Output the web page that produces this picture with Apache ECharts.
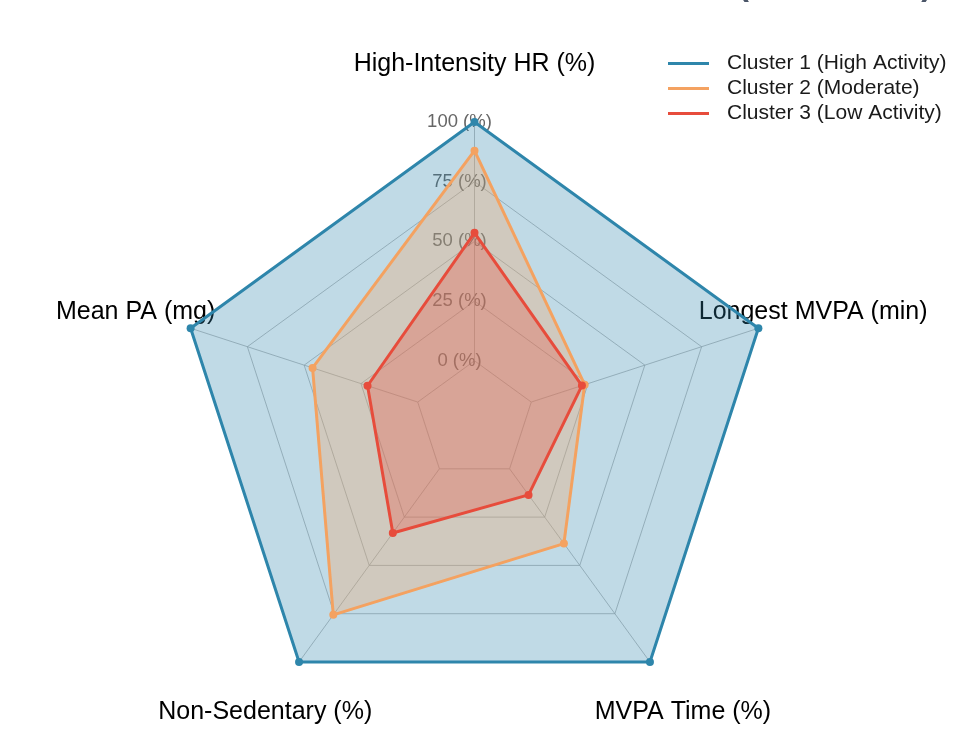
<!DOCTYPE html>
<html>
<head>
<meta charset="utf-8">
<script src="https://cdn.jsdelivr.net/npm/echarts@6/dist/echarts.min.js"></script>
<style>
html, body { margin: 0; padding: 0; background: #fff; }
#chart { width: 954px; height: 738px; }
</style>
</head>
<body>
<div id="chart"></div>
<script>
// axes, clockwise from the top
var categories = ['High-Intensity HR (%)', 'Longest MVPA (min)', 'MVPA Time (%)', 'Non-Sedentary (%)', 'Mean PA (mg)'];
var seriesNames = ['Cluster 1 (High Activity)', 'Cluster 2 (Moderate)', 'Cluster 3 (Low Activity)'];
var cluster1 = [100, 100, 100, 100, 100];
var cluster2 = [88, 23.5, 38.7, 75.6, 46.3];
var cluster3 = [53.6, 22.3, 13.5, 33.2, 22.1];
var tickValues = [0, 25, 50, 75, 100];
var colors = ['#2E86AB', '#F4A261', '#E74C3C'];

// echarts lays radar indicators out counter-clockwise, so flip the order
var order = [0, 4, 3, 2, 1];
function reorder(arr) {
	return order.map(function(i) { return arr[i]; });
}

// push each axis name to where the reference has it
var nameStyle = {
	'High-Intensity HR (%)': { key: 'a', padding: [0, 0, 195, 0] },
	'Longest MVPA (min)': { key: 'b', padding: [0, 0, 125, 83] },
	'MVPA Time (%)': { key: 'c', padding: [343, 0, 0, 33] },
	'Non-Sedentary (%)': { key: 'd', padding: [343, 15, 0, 0] },
	'Mean PA (mg)': { key: 'e', padding: [0, 118, 125, 0] }
};
var rich = {};
categories.forEach(function(c) {
	rich[nameStyle[c].key] = {
		fontSize: 25,
		fontFamily: 'Liberation Sans',
		color: '#000',
		padding: nameStyle[c].padding
	};
});

var chart = echarts.init(document.getElementById('chart'));
var gridColor = '#a3a3a3';

// spokes run from the 0 ring out to 100, one per axis (polar angle, clockwise from top)
var spokeSeries = categories.map(function(c, i) {
	var angle = 360 / categories.length * i;
	return {
		type: 'line',
		coordinateSystem: 'polar',
		silent: true,
		z: 1,
		symbol: 'none',
		lineStyle: { color: gridColor, width: 0.7 },
		data: [[0, angle], [100, angle]]
	};
});

chart.setOption({
	animation: false,
	color: colors,
	textStyle: { fontFamily: 'Liberation Sans' },
	title: {
		text: 'Cluster Profiles (Normalized)',
		right: 22,
		top: -30,
		padding: 0,
		textStyle: { fontSize: 32, fontWeight: 'bold', color: '#4a5568', fontFamily: 'Liberation Sans' }
	},
	legend: {
		orient: 'vertical',
		left: 668,
		top: 53,
		padding: 0,
		itemWidth: 41,
		itemHeight: 3,
		itemGap: 4,
		icon: 'rect',
		data: seriesNames,
		textStyle: { fontSize: 21, color: '#1a1a1a', padding: [0, 0, 0, 13] }
	},
	// polar carries the spokes and the tick labels
	polar: {
		center: [474.5, 420.5],
		radius: [59.7, 298.5]
	},
	angleAxis: {
		type: 'value',
		min: 0,
		max: 360,
		interval: 72,
		startAngle: 90,
		axisLine: { show: false },
		axisTick: { show: false },
		axisLabel: { show: false },
		splitLine: { show: false }
	},
	radiusAxis: {
		type: 'value',
		min: 0,
		max: 100,
		interval: 25,
		axisLine: { show: false },
		axisTick: { show: false },
		splitLine: { show: false },
		axisLabel: {
			formatter: function(v) { return tickValues.indexOf(v) >= 0 ? v + ' (%)' : ''; },
			fontSize: 18.5,
			color: '#666',
			margin: 15,
			align: 'center',
			verticalAlign: 'middle'
		}
	},
	radar: {
		center: [474.5, 420.5],
		radius: 298.5,
		shape: 'polygon',
		splitNumber: 5,
		nameGap: -150,
		indicator: reorder(categories).map(function(c) {
			return { name: c, min: -25, max: 100 };
		}),
		axisName: {
			formatter: function(name) { return '{' + nameStyle[name].key + '|' + name + '}'; },
			rich: rich
		},
		axisLine: { show: false },
		axisTick: { show: false },
		axisLabel: { show: false },
		splitArea: { show: false },
		splitLine: { lineStyle: { color: gridColor, width: 0.7 } }
	},
	series: spokeSeries.concat([{
		type: 'radar',
		z: 2,
		symbol: 'circle',
		symbolSize: 8,
		data: [cluster1, cluster2, cluster3].map(function(vals, i) {
			return {
				name: seriesNames[i],
				value: reorder(vals),
				lineStyle: { width: 3, color: colors[i] },
				itemStyle: { color: colors[i] },
				areaStyle: { color: colors[i], opacity: 0.3 }
			};
		})
	}])
});
</script>
</body>
</html>
